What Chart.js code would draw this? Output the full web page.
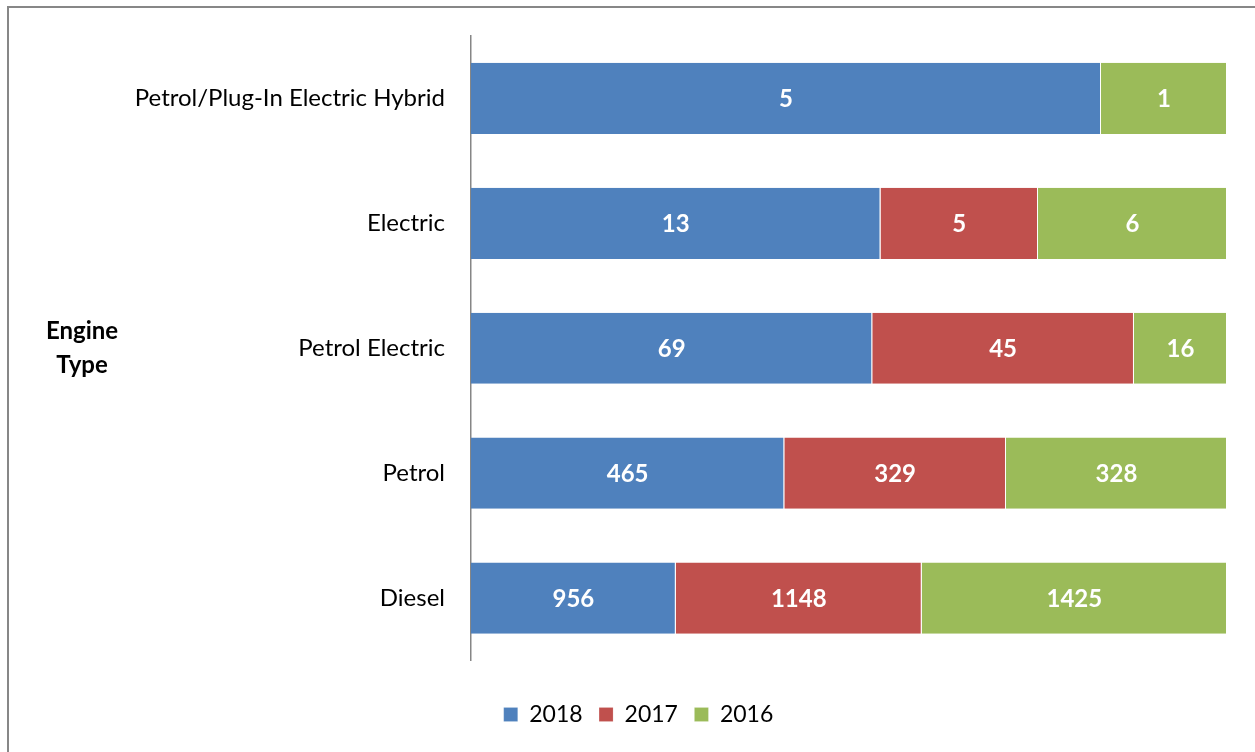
<!DOCTYPE html>
<html>
<head>
<meta charset="utf-8">
<script src="https://cdn.jsdelivr.net/npm/chart.js@4/dist/chart.umd.min.js"></script>
<style>
  html, body { margin: 0; padding: 0; background: #fff; overflow: hidden; }
  #frame { position: absolute; left: 7px; top: 6px; width: 1300px; height: 800px;
           border: 2px solid #878787; box-sizing: border-box; }
  #wrap { position: absolute; left: 0; top: 0; width: 1255px; height: 752px; }
</style>
</head>
<body>
<div id="frame"></div>
<div id="wrap"><canvas id="c" width="1255" height="752"></canvas></div>
<script>
// Registrations by engine type, three years, shown as share of each row
const categories = ['Petrol/Plug-In Electric Hybrid', 'Electric', 'Petrol Electric', 'Petrol', 'Diesel'];
const years = ['2018', '2017', '2016'];
const values2018 = [5, 13, 69, 465, 956];
const values2017 = [0, 5, 45, 329, 1148];
const values2016 = [1, 6, 16, 328, 1425];
const colors = ['#4F81BD', '#C0504D', '#9BBB59'];
const axisTitle = ['Engine', 'Type'];

const FONT = 'Lato, "Liberation Sans", sans-serif';
const raw = [values2018, values2017, values2016];
const totals = categories.map((_, i) => raw.reduce((s, arr) => s + arr[i], 0));
const share = arr => arr.map((v, i) => v / totals[i] * 100);

// Writes the count inside each segment
const segmentLabels = {
  id: 'segmentLabels',
  afterDatasetsDraw(chart) {
    const ctx = chart.ctx;
    ctx.save();
    ctx.fillStyle = '#fff';
    ctx.font = 'bold 24px ' + FONT;
    ctx.textAlign = 'center';
    ctx.textBaseline = 'middle';
    chart.data.datasets.forEach((ds, di) => {
      chart.getDatasetMeta(di).data.forEach((bar, i) => {
        const v = ds.counts[i];
        if (!v) return;
        const x = (bar.x + bar.base) / 2;
        ctx.fillText(String(v), x, bar.y + 1);
      });
    });
    ctx.restore();
  }
};

// Horizontal category-axis title at the left
const sideTitle = {
  id: 'sideTitle',
  afterDraw(chart) {
    const ctx = chart.ctx;
    const a = chart.chartArea;
    const cy = (a.top + a.bottom) / 2;
    ctx.save();
    ctx.fillStyle = '#000';
    ctx.font = 'bold 24px ' + FONT;
    ctx.textAlign = 'center';
    ctx.textBaseline = 'middle';
    ctx.fillText(axisTitle[0], 82, cy - 17);
    ctx.fillText(axisTitle[1], 82, cy + 17);
    ctx.restore();
  }
};

// Extra room between the plot and the legend, legend nudged right
const legendGap = {
  id: 'legendGap',
  beforeInit(chart) {
    const fit = chart.legend.fit;
    chart.legend.fit = function () {
      fit.call(this);
      this.height += 24;
    };
  },
  afterLayout(chart) {
    const lg = chart.legend;
    lg.top += 26; lg.bottom += 26;
    lg.left += 25; lg.right += 25;
  }
};

new Chart(document.getElementById('c'), {
  type: 'bar',
  data: {
    labels: categories,
    datasets: raw.map((arr, k) => ({
      label: years[k],
      data: share(arr),
      counts: arr,
      backgroundColor: colors[k],
      borderColor: 'rgba(255,255,255,0.6)',
      borderWidth: { left: 0, right: 1, top: 0, bottom: 0 },
      borderSkipped: false,
      categoryPercentage: 1,
      barPercentage: 0.57
    }))
  },
  options: {
    indexAxis: 'y',
    responsive: false,
    animation: false,
    layout: { padding: { top: 36, right: 28, bottom: 18, left: 0 } },
    scales: {
      x: {
        stacked: true, min: 0, max: 100, display: false
      },
      y: {
        stacked: true,
        grid: { display: false, drawTicks: false },
        border: { display: true, color: '#868686', width: 1.5 },
        ticks: { color: '#000', font: { size: 24, family: FONT }, padding: 26 },
        afterFit(scale) {
          scale.width = 471;
          scale.paddingTop = 0;
          scale.paddingBottom = 0;
        }
      }
    },
    plugins: {
      legend: {
        position: 'bottom',
        labels: {
          color: '#000',
          font: { size: 23, family: FONT },
          boxWidth: 14, boxHeight: 14,
          padding: 16.5
        }
      },
      tooltip: { enabled: false }
    }
  },
  plugins: [segmentLabels, sideTitle, legendGap]
});
</script>
</body>
</html>
